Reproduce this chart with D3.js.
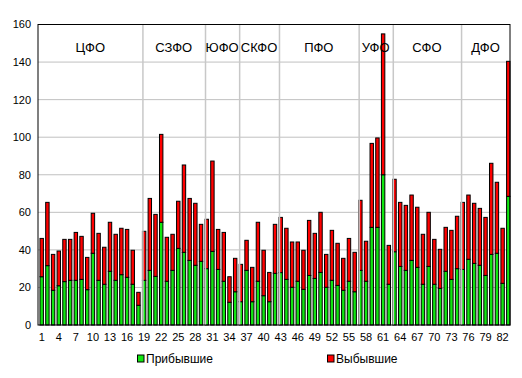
<!DOCTYPE html>
<html>
<head>
<meta charset="utf-8">
<script src="https://cdn.jsdelivr.net/npm/d3@7"></script>
<style>
  body { margin: 0; background: #fff; }
  text { font-family: "Liberation Sans", Arial, sans-serif; fill: #000; }
</style>
</head>
<body>
<div class="chart"></div>
<script>
const regions = d3.range(1, 84);

const arrived = [25.7, 31.6, 18.5, 20.9, 23.1, 23.8, 23.8, 24.3, 18.8, 38.2,
  23.8, 21.7, 28.6, 23.8, 26.8, 25.4, 21.7, 10.5, 23.8, 29.1,
  25.9, 54.7, 23.3, 29.1, 40.8, 38.7, 34.4, 31.8, 33.9, 30.0,
  39.2, 29.6, 23.3, 12.1, 17.7, 12.4, 29.1, 12.4, 23.3, 15.6,
  12.4, 27.5, 27.9, 24.3, 20.1, 23.3, 19.0, 26.4, 24.8, 28.0,
  20.1, 23.8, 21.1, 18.5, 23.3, 17.7, 29.1, 23.3, 52.0, 52.0,
  80.0, 21.7, 39.0, 31.2, 29.1, 34.4, 30.7, 21.7, 31.2, 21.7,
  19.5, 28.6, 24.3, 30.0, 29.6, 35.0, 32.8, 31.8, 26.4, 37.6,
  38.2, 22.2, 68.5];

const departed = [20.4, 33.7, 19.1, 18.5, 22.5, 21.8, 25.5, 22.9, 17.2, 21.3,
  25.0, 19.7, 26.1, 24.5, 24.7, 25.5, 18.1, 6.9, 26.1, 38.3,
  33.0, 46.8, 23.4, 19.2, 25.1, 46.5, 33.0, 33.0, 19.7, 26.3,
  48.1, 21.3, 26.0, 13.6, 17.8, 19.9, 16.0, 18.3, 31.4, 24.2,
  15.6, 26.1, 29.4, 27.2, 24.1, 20.9, 20.8, 29.3, 24.0, 32.0,
  17.5, 26.6, 22.4, 17.0, 22.8, 21.0, 37.3, 21.3, 44.7, 47.6,
  75.0, 20.7, 38.6, 34.1, 34.6, 34.8, 32.0, 26.6, 28.8, 23.9,
  20.8, 23.4, 26.1, 27.9, 35.7, 34.2, 32.0, 30.3, 30.9, 48.5,
  37.8, 29.3, 71.9];

const districts = ["ЦФО", "СЗФО", "ЮФО", "СКФО", "ПФО", "УФО", "СФО", "ДФО"];
const districtStart = [1, 19, 30, 36, 43, 57, 63, 75];

const seriesNames = ["Прибывшие", "Выбывшие"];
const seriesColors = ["#11e611", "#ff0000"];
const yTicks = [0, 20, 40, 60, 80, 100, 120, 140, 160];

const width = 522, height = 378;
const margin = { top: 24.5, right: 12, bottom: 53, left: 38 };
const w = width - margin.left - margin.right;
const h = height - margin.top - margin.bottom;

const svg = d3.select(".chart").append("svg")
  .attr("width", width)
  .attr("height", height);

const g = svg.append("g").attr("transform", `translate(${margin.left},${margin.top})`);

const x = d3.scaleBand()
  .domain(regions)
  .range([1, w + 1])
  .paddingInner(0.4)
  .paddingOuter(0.175);

const y = d3.scaleLinear().domain([0, 160]).range([h, 0]);

// horizontal grid
g.append("g")
  .selectAll("line")
  .data(yTicks.slice(1))
  .join("line")
  .attr("x1", 0).attr("x2", w)
  .attr("y1", d => y(d)).attr("y2", d => y(d))
  .attr("stroke", "#c0c0c0")
  .attr("stroke-width", 1);

const stacked = d3.stack().keys([0, 1])
  .value((d, k) => k === 0 ? arrived[d - 1] : departed[d - 1])(regions);

g.append("g")
  .selectAll("g")
  .data(stacked)
  .join("g")
  .attr("fill", (d, i) => seriesColors[i])
  .selectAll("rect")
  .data(d => d.map((v, i) => ({ v, r: regions[i] })))
  .join("rect")
  .attr("x", d => x(d.r))
  .attr("width", x.bandwidth())
  .attr("y", d => y(d.v[1]))
  .attr("height", d => y(d.v[0]) - y(d.v[1]))
  .attr("stroke", "#000")
  .attr("stroke-width", 1);

// district separators, drawn over the bars
g.append("g")
  .selectAll("line")
  .data(districtStart.slice(1))
  .join("line")
  .attr("x1", d => x(d) + 0.5).attr("x2", d => x(d) + 0.5)
  .attr("y1", 0).attr("y2", h)
  .attr("stroke", "#c8c8c8")
  .attr("stroke-width", 1.5);

// district names
const bounds = districtStart.concat([84]);
g.append("g")
  .selectAll("text")
  .data(districts)
  .join("text")
  .attr("x", (d, i) => {
    let a = i === 0 ? 0 : x(bounds[i]);
    let b = i === districts.length - 1 ? w : x(bounds[i + 1]);
    return (a + b) / 2;
  })
  .attr("y", 27.5)
  .attr("text-anchor", "middle")
  .style("font-size", "13px")
  .text(d => d);

g.append("rect")
  .attr("width", w).attr("height", h)
  .attr("fill", "none")
  .attr("stroke", "#000")
  .attr("stroke-width", 1);

// y axis labels
g.append("g")
  .selectAll("text")
  .data(yTicks)
  .join("text")
  .attr("x", -7)
  .attr("y", d => y(d))
  .attr("dy", "0.36em")
  .attr("text-anchor", "end")
  .style("font-size", "11px")
  .text(d => d);

// x axis labels
g.append("g")
  .selectAll("text")
  .data(regions.filter(d => (d - 1) % 3 === 0))
  .join("text")
  .attr("x", d => x(d) + x.bandwidth() / 2)
  .attr("y", h + 16)
  .attr("text-anchor", "middle")
  .style("font-size", "11px")
  .text(d => d);

// legend
const legend = svg.append("g")
  .selectAll("g")
  .data(seriesNames)
  .join("g")
  .attr("transform", (d, i) => `translate(${137.5 + i * 190},355)`);

legend.append("rect")
  .attr("width", 6.5).attr("height", 7)
  .attr("fill", (d, i) => seriesColors[i])
  .attr("stroke", "#000")
  .attr("stroke-width", 1);

legend.append("text")
  .attr("x", 8.5)
  .attr("y", 8)
  .style("font-size", "12px")
  .text(d => d);
</script>
</body>
</html>
